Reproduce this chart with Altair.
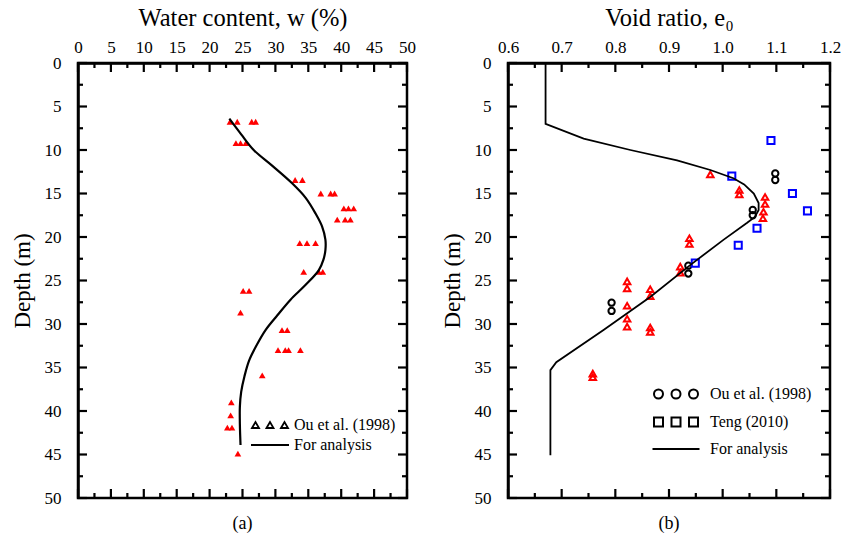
import altair as alt
import pandas as pd

FONT = "Liberation Serif"

# ---------------- Panel (a): water content ----------------
w_obs = [23.1, 24.2, 26.4, 27.0,
         24.0, 24.7, 25.5,
         33.0, 34.1,
         36.9, 38.4, 39.0,
         40.4, 41.1, 41.9,
         39.4, 40.6, 41.4,
         33.7, 34.8, 36.1,
         34.3, 36.6, 37.2,
         25.1, 26.0,
         24.7,
         31.0, 31.8,
         30.4, 31.5, 32.0, 33.8,
         28.0,
         23.3,
         23.2,
         22.7, 23.4,
         24.3]
w_obs_depth = [6.75, 6.75, 6.75, 6.75,
               9.2, 9.2, 9.2,
               13.45, 13.45,
               15.0, 15.0, 15.0,
               16.7, 16.7, 16.7,
               18.0, 18.0, 18.0,
               20.7, 20.7, 20.7,
               24.0, 24.0, 24.0,
               26.2, 26.2,
               28.7,
               30.7, 30.7,
               33.0, 33.0, 33.0, 33.0,
               35.9,
               39.0,
               40.5,
               41.9, 41.9,
               44.9]

w_line = [23.0, 24.8, 26.7, 29.5, 32.5, 34.6, 36.1, 37.1, 37.6, 37.6, 37.3, 36.6,
          34.6, 32.3, 30.3, 28.5, 27.1, 26.0, 25.3, 24.8, 24.6, 24.6, 24.7]
w_line_depth = [6.4, 8.2, 10.0, 11.8, 13.8, 15.5, 17.3, 18.8, 20.3, 21.5, 22.6, 23.8,
                25.5, 27.2, 29.0, 30.7, 32.5, 34.2, 36.0, 37.8, 39.5, 41.5, 43.9]

# ---------------- Panel (b): void ratio ----------------
e_tri = [0.977, 1.031, 1.031, 1.079, 1.079, 1.076, 1.075, 0.938, 0.938, 0.921, 0.921,
         0.822, 0.822, 0.865, 0.865, 0.822, 0.822, 0.822, 0.865, 0.865, 0.758, 0.758]
d_tri = [12.8, 14.6, 15.1, 15.4, 16.2, 17.1, 17.85, 20.15, 20.8, 23.4, 24.1,
         25.1, 25.9, 26.0, 26.8, 27.9, 29.4, 30.3, 30.4, 30.9, 35.7, 36.1]

e_circ = [1.098, 1.098, 1.056, 1.056, 0.936, 0.936, 0.793, 0.793]
d_circ = [12.7, 13.45, 16.9, 17.5, 23.3, 24.2, 27.55, 28.5]

e_sq = [1.090, 1.017, 1.130, 1.158, 1.064, 1.029, 0.949]
d_sq = [8.9, 13.0, 15.0, 17.0, 19.0, 20.95, 23.0]

e_line = [0.670, 0.670, 0.741, 0.828, 0.915, 0.977, 1.020, 1.040, 1.058, 1.067, 1.067,
          1.060, 1.045, 1.002, 0.940, 0.865, 0.778, 0.690, 0.679, 0.679]
d_line = [0.0, 7.0, 8.7, 10.0, 11.2, 12.3, 13.25, 13.95, 15.0, 16.1, 16.9,
          17.7, 18.4, 20.3, 23.2, 26.9, 30.7, 34.4, 35.3, 45.1]

depth_major = [0, 5, 10, 15, 20, 25, 30, 35, 40, 45, 50]
depth_minor = [2.5, 7.5, 12.5, 17.5, 22.5, 27.5, 32.5, 37.5, 42.5, 47.5]
w_major = [0, 5, 10, 15, 20, 25, 30, 35, 40, 45, 50]
w_minor = [2.5, 7.5, 12.5, 17.5, 22.5, 27.5, 32.5, 37.5, 42.5, 47.5]
e_major = [0.6, 0.7, 0.8, 0.9, 1.0, 1.1, 1.2]
e_minor = [0.65, 0.75, 0.85, 0.95, 1.05, 1.15]

legend_a = ["Ou et al. (1998)", "For analysis"]
legend_b = ["Ou et al. (1998)", "Teng (2010)", "For analysis"]

# legend symbols (custom SVG paths, units scaled by sqrt(size)/2)
TRI3 = ("M-3.6,0.6L-2.9,-0.6L-2.2,0.6Z M-0.7,0.6L0,-0.6L0.7,0.6Z "
        "M2.2,0.6L2.9,-0.6L3.6,0.6Z")
LINE_A = "M-3.8,0L3.8,0"
CIRC3 = ("M-4.4,0A0.9,0.9,0,1,0,-2.6,0A0.9,0.9,0,1,0,-4.4,0Z "
         "M-0.9,0A0.9,0.9,0,1,0,0.9,0A0.9,0.9,0,1,0,-0.9,0Z "
         "M2.6,0A0.9,0.9,0,1,0,4.4,0A0.9,0.9,0,1,0,2.6,0Z")
SQ3 = ("M-4.4,-0.9L-2.6,-0.9L-2.6,0.9L-4.4,0.9Z "
       "M-0.9,-0.9L0.9,-0.9L0.9,0.9L-0.9,0.9Z "
       "M2.6,-0.9L4.4,-0.9L4.4,0.9L2.6,0.9Z")
LINE_B = "M-4.7,0L4.7,0"

WA, WB, H = 329, 322, 435


def axis_layer(df, xf, xscale, yscale, xmaj, xtitle, xfmt):
    lab = dict(labelFont=FONT, labelFontSize=17, labelColor="black", labelFlush=False)
    ax_top = alt.Axis(orient="top", values=xmaj, ticks=False, tickSize=0, domain=True,
                      domainWidth=2.5, domainColor="black", labelPadding=7, format=xfmt,
                      title=xtitle, titleFont=FONT, titleFontSize=24.5,
                      titleFontWeight="normal", titleColor="black", titlePadding=8,
                      grid=False, **lab)
    ax_left = alt.Axis(orient="left", values=depth_major, ticks=False, tickSize=0,
                       domain=True, domainWidth=2.5, domainColor="black", labelPadding=17,
                       title="Depth (m)", titleFont=FONT, titleFontSize=23,
                       titleFontWeight="normal", titleColor="black", titlePadding=10,
                       grid=False, **lab)
    return alt.Chart(df).mark_point(opacity=0).encode(
        x=alt.X(f"{xf}:Q", scale=xscale, axis=ax_top),
        y=alt.Y("depth:Q", scale=yscale, axis=ax_left))


def frame_layers(xscale, yscale, xdom, xmaj, xmin):
    layers = []
    box = pd.DataFrame({"x0": [xdom[0]], "x1": [xdom[1]], "y0": [0], "y1": [50]})
    layers.append(alt.Chart(box).mark_rect(filled=False, stroke="black", strokeWidth=2.5,
                                           fillOpacity=0, strokeOpacity=1).encode(
        x=alt.X("x0:Q", scale=xscale, axis=None), x2="x1:Q",
        y=alt.Y("y0:Q", scale=yscale, axis=None), y2="y1:Q"))
    rule = dict(color="black", strokeWidth=2.2, opacity=1)
    for vals, ln in ((depth_major, 9), (depth_minor, 5)):
        d = pd.DataFrame({"v": vals, "lo": [xdom[0]] * len(vals), "hi": [xdom[1]] * len(vals)})
        yy = alt.Y("v:Q", scale=yscale, axis=None)
        layers.append(alt.Chart(d).mark_rule(x2Offset=ln, **rule).encode(
            y=yy, x=alt.X("lo:Q", scale=xscale, axis=None), x2="lo:Q"))
        layers.append(alt.Chart(d).mark_rule(x2Offset=-ln, **rule).encode(
            y=yy, x=alt.X("hi:Q", scale=xscale, axis=None), x2="hi:Q"))
    for vals, ln in ((xmaj, 9), (xmin, 5)):
        d = pd.DataFrame({"v": vals, "top": [0] * len(vals), "bot": [50] * len(vals)})
        xx = alt.X("v:Q", scale=xscale, axis=None)
        layers.append(alt.Chart(d).mark_rule(y2Offset=ln, **rule).encode(
            x=xx, y=alt.Y("top:Q", scale=yscale, axis=None), y2="top:Q"))
        layers.append(alt.Chart(d).mark_rule(y2Offset=-ln, **rule).encode(
            x=xx, y=alt.Y("bot:Q", scale=yscale, axis=None), y2="bot:Q"))
    return layers


ysc = alt.Scale(domain=[0, 50], reverse=True, nice=False, zero=False)

# ---------- panel a ----------
dfa_pts = pd.DataFrame({"w": w_obs, "depth": w_obs_depth})
dfa_line = pd.DataFrame({"w": w_line, "depth": w_line_depth,
                         "idx": list(range(len(w_line)))})
xsa = alt.Scale(domain=[0, 50], nice=False, zero=False)

pts_a = alt.Chart(dfa_pts).mark_point(shape="triangle-up", filled=True, color="#ff0000",
                                      size=45, opacity=1).encode(
    x=alt.X("w:Q", scale=xsa, axis=None), y=alt.Y("depth:Q", scale=ysc, axis=None))
line_a = alt.Chart(dfa_line).mark_line(color="black", strokeWidth=2.2,
                                       interpolate="catmull-rom").encode(
    x=alt.X("w:Q", scale=xsa, axis=None), y=alt.Y("depth:Q", scale=ysc, axis=None),
    order="idx:Q")
leg_a = alt.Chart(pd.DataFrame({"series_a": legend_a})).mark_point(
    opacity=0, filled=False, color="black").encode(
    shape=alt.Shape("series_a:N", scale=alt.Scale(domain=legend_a, range=[TRI3, LINE_A]),
                    legend=alt.Legend(orient="none", legendX=184, legendY=354, title=None,
                                      labelFont=FONT, labelFontSize=16, labelColor="black",
                                      symbolSize=100, symbolStrokeWidth=1.8,
                                      symbolStrokeColor="black", symbolOpacity=1,
                                      labelOffset=16, rowPadding=4)))

panel_a = alt.layer(
    axis_layer(dfa_line, "w", xsa, ysc, w_major, "Water content, w (%)", "d"),
    pts_a, line_a, leg_a,
    *frame_layers(xsa, ysc, [0, 50], w_major, w_minor),
).resolve_axis(x="independent", y="independent").properties(
    width=WA, height=H,
    title=alt.TitleParams("(a)", orient="bottom", font=FONT, fontSize=18,
                          fontWeight="normal", color="black", offset=9))

# ---------- panel b ----------
dfb_tri = pd.DataFrame({"e": e_tri, "depth": d_tri})
dfb_circ = pd.DataFrame({"e": e_circ, "depth": d_circ})
dfb_sq = pd.DataFrame({"e": e_sq, "depth": d_sq})
dfb_line = pd.DataFrame({"e": e_line, "depth": d_line, "idx": list(range(len(e_line)))})
xsb = alt.Scale(domain=[0.6, 1.2], nice=False, zero=False)

tri_b = alt.Chart(dfb_tri).mark_point(shape="triangle-up", filled=False, color="#ff0000",
                                      strokeWidth=2, size=42, opacity=1).encode(
    x=alt.X("e:Q", scale=xsb, axis=None), y=alt.Y("depth:Q", scale=ysc, axis=None))
circ_b = alt.Chart(dfb_circ).mark_point(shape="circle", filled=False, color="black",
                                        strokeWidth=2, size=40, opacity=1).encode(
    x=alt.X("e:Q", scale=xsb, axis=None), y=alt.Y("depth:Q", scale=ysc, axis=None))
sq_b = alt.Chart(dfb_sq).mark_point(shape="square", filled=False, color="#0000ff",
                                    strokeWidth=2, size=50, opacity=1).encode(
    x=alt.X("e:Q", scale=xsb, axis=None), y=alt.Y("depth:Q", scale=ysc, axis=None))
line_b = alt.Chart(dfb_line).mark_line(color="black", strokeWidth=1.8).encode(
    x=alt.X("e:Q", scale=xsb, axis=None), y=alt.Y("depth:Q", scale=ysc, axis=None),
    order="idx:Q")
leg_b = alt.Chart(pd.DataFrame({"series_b": legend_b})).mark_point(
    opacity=0, filled=False, color="black").encode(
    shape=alt.Shape("series_b:N",
                    scale=alt.Scale(domain=legend_b, range=[CIRC3, SQ3, LINE_B]),
                    legend=alt.Legend(orient="none", legendX=160, legendY=323, title=None,
                                      labelFont=FONT, labelFontSize=16, labelColor="black",
                                      symbolSize=100, symbolStrokeWidth=2,
                                      symbolStrokeColor="black", symbolOpacity=1,
                                      labelOffset=26, rowPadding=10)))

panel_b = alt.layer(
    axis_layer(dfb_line, "e", xsb, ysc, e_major, "Void ratio, e₀", ".1f"),
    tri_b, circ_b, sq_b, line_b, leg_b,
    *frame_layers(xsb, ysc, [0.6, 1.2], e_major, e_minor),
).resolve_axis(x="independent", y="independent").properties(
    width=WB, height=H,
    title=alt.TitleParams("(b)", orient="bottom", font=FONT, fontSize=18,
                          fontWeight="normal", color="black", offset=9))

chart = alt.hconcat(panel_a, panel_b, spacing=24).resolve_scale(
    shape="independent").resolve_legend(shape="independent").properties(
    padding={"left": 10, "top": 4, "right": 5, "bottom": 5}
).configure_view(stroke="black", strokeWidth=2.5).configure(background="white")

chart.save("out.html", embed_options={"renderer": "svg", "actions": False})
